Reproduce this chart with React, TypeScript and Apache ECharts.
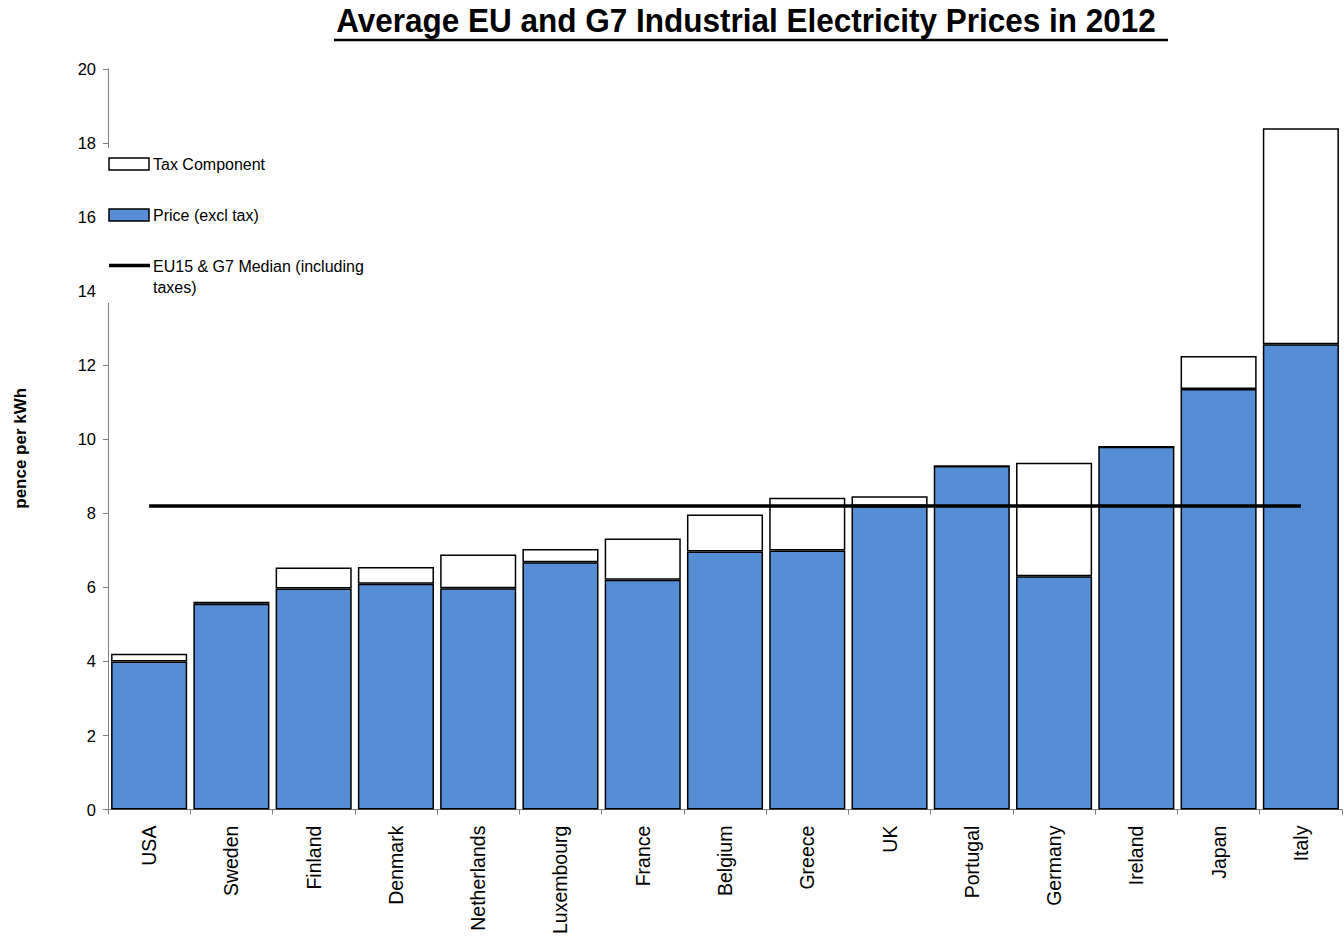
import React, { useEffect, useRef } from "react";
import * as echarts from "echarts";

const categories = [
  "USA", "Sweden", "Finland", "Denmark", "Netherlands", "Luxembourg", "France",
  "Belgium", "Greece", "UK", "Portugal", "Germany", "Ireland", "Japan", "Italy",
];
const priceExclTax = [4.0, 5.56, 5.97, 6.1, 5.98, 6.68, 6.21, 6.97, 7.0, 8.2, 9.28, 6.3, 9.8, 11.36, 12.57];
const taxComponent = [0.21, 0.05, 0.57, 0.45, 0.91, 0.36, 1.11, 1.0, 1.42, 0.26, 0.0, 3.07, 0.0, 0.89, 5.83];
const medianValue = 8.2;
const medianLine = categories.map(() => medianValue);
const yTicks = { min: 0, max: 20, interval: 2 };

const BLUE = "#558ED5";
const FONT = "Arial, 'Liberation Sans', Helvetica, sans-serif";

export default function App() {
  const ref = useRef<HTMLDivElement>(null);

  useEffect(() => {
    if (!ref.current) return;
    const chart = echarts.init(ref.current, undefined, { renderer: "svg" });
    const option: any = {
      animation: false,
      backgroundColor: "#ffffff",
      textStyle: { fontFamily: FONT },
      grid: { left: 108, right: 2, top: 69, bottom: 126.5, containLabel: false },
      xAxis: {
        type: "category",
        data: categories,
        boundaryGap: true,
        axisLine: { lineStyle: { color: "#808080", width: 1 } },
        axisTick: { show: true, length: 5, lineStyle: { color: "#808080" } },
        axisLabel: {
          rotate: 90,
          margin: 16,
          fontSize: 19.5,
          color: "#000",
          fontFamily: FONT,
          interval: 0,
        },
        splitLine: { show: false },
      },
      yAxis: {
        type: "value",
        min: yTicks.min,
        max: yTicks.max,
        interval: yTicks.interval,
        name: "pence per kWh",
        nameLocation: "middle",
        nameGap: 79,
        nameRotate: 90,
        nameTextStyle: {
          fontSize: 17,
          fontWeight: "bold",
          color: "#000",
          fontFamily: FONT,
          padding: [0, 18, 0, 0],
        },
        axisLine: { show: true, lineStyle: { color: "#808080", width: 1 } },
        axisTick: { show: true, length: 5, lineStyle: { color: "#808080" } },
        axisLabel: { fontSize: 16.5, color: "#000", margin: 12, fontFamily: FONT },
        splitLine: { show: false },
      },
      series: [
        {
          name: "Price (excl tax)",
          type: "bar",
          stack: "total",
          data: priceExclTax,
          barCategoryGap: "7.5%",
          itemStyle: { color: BLUE, borderColor: "#000", borderWidth: 1.5 },
        },
        {
          name: "Tax Component",
          type: "bar",
          stack: "total",
          data: taxComponent,
          barCategoryGap: "7.5%",
          itemStyle: { color: "#ffffff", borderColor: "#000", borderWidth: 1.5 },
        },
        {
          name: "EU15 & G7 Median (including taxes)",
          type: "line",
          data: medianLine,
          symbol: "none",
          showSymbol: false,
          z: 5,
          lineStyle: { color: "#000", width: 3.5 },
        },
      ],
      graphic: [
        {
          type: "text",
          x: 746,
          y: 22,
          z: 100,
          scaleY: 1.04,
          originX: 746,
          originY: 22,
          style: {
            text: "Average EU and G7 Industrial Electricity Prices in 2012",
            fontSize: 31.5,
            fontWeight: "bold",
            fontFamily: FONT,
            fill: "#000",
            align: "center",
            verticalAlign: "middle",
          },
        },
        {
          type: "line",
          z: 100,
          shape: { x1: 334, y1: 40, x2: 1168, y2: 40 },
          style: { stroke: "#000", lineWidth: 2.5 },
        },
        // legend background covering axis line
        {
          type: "rect",
          z: 100,
          shape: { x: 100, y: 148, width: 270, height: 155 },
          style: { fill: "#ffffff" },
        },
        {
          type: "rect",
          z: 101,
          shape: { x: 109, y: 158, width: 40, height: 12 },
          style: { fill: "#ffffff", stroke: "#000", lineWidth: 1.5 },
        },
        {
          type: "text",
          z: 101,
          x: 153,
          y: 164,
          style: {
            text: "Tax Component",
            fontSize: 16,
            fontFamily: FONT,
            fill: "#000",
            align: "left",
            verticalAlign: "middle",
          },
        },
        {
          type: "rect",
          z: 101,
          shape: { x: 109, y: 209, width: 40, height: 12 },
          style: { fill: BLUE, stroke: "#000", lineWidth: 1.5 },
        },
        {
          type: "text",
          z: 101,
          x: 153,
          y: 215,
          style: {
            text: "Price (excl tax)",
            fontSize: 16,
            fontFamily: FONT,
            fill: "#000",
            align: "left",
            verticalAlign: "middle",
          },
        },
        {
          type: "line",
          z: 101,
          shape: { x1: 109, y1: 265.5, x2: 150, y2: 265.5 },
          style: { stroke: "#000", lineWidth: 3.5 },
        },
        {
          type: "text",
          z: 101,
          x: 153,
          y: 266,
          style: {
            text: "EU15 & G7 Median (including",
            fontSize: 16,
            fontFamily: FONT,
            fill: "#000",
            align: "left",
            verticalAlign: "middle",
          },
        },
        {
          type: "text",
          z: 101,
          x: 153,
          y: 287,
          style: {
            text: "taxes)",
            fontSize: 16,
            fontFamily: FONT,
            fill: "#000",
            align: "left",
            verticalAlign: "middle",
          },
        },
      ],
    };
    chart.setOption(option);
    return () => chart.dispose();
  }, []);

  return (
    <div
      ref={ref}
      style={{ position: "absolute", left: 0, top: 0, width: 1344, height: 937, background: "#fff" }}
    />
  );
}
